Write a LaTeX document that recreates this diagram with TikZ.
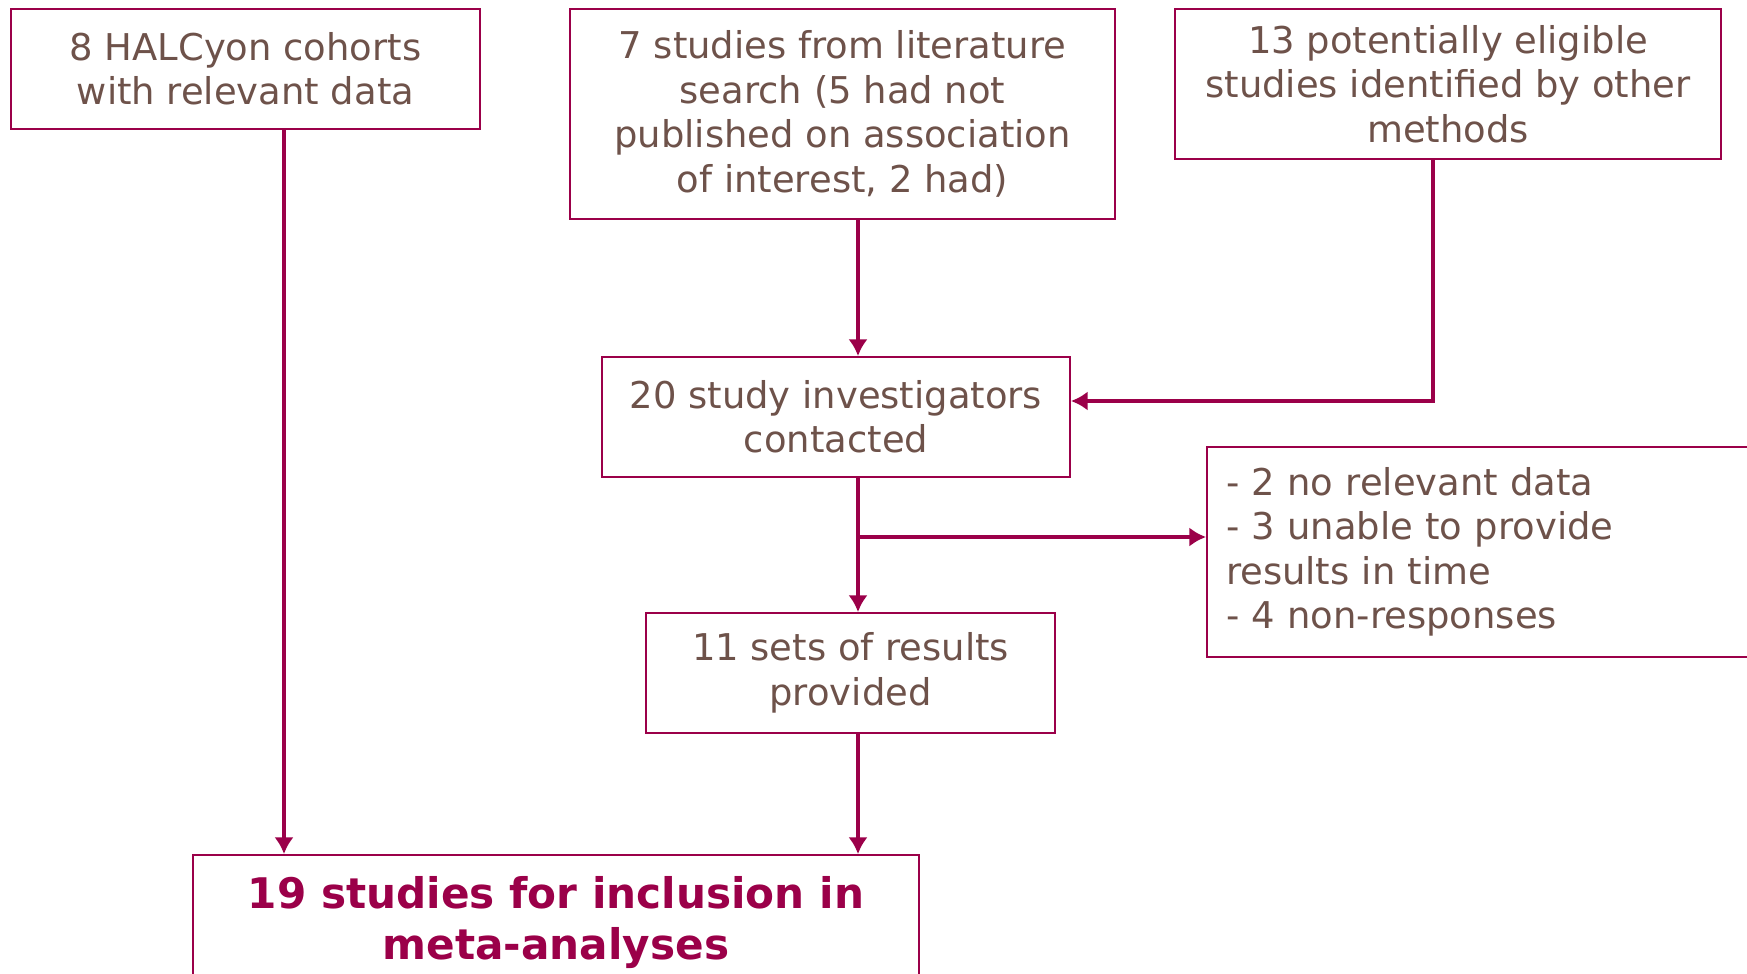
\documentclass[tikz,border=0pt]{standalone}
\usepackage{fontspec}
\setmainfont{DejaVu Sans}
\usetikzlibrary{arrows.meta, positioning, calc}
\definecolor{flowcrimson}{HTML}{9B0049}
\definecolor{flowtext}{HTML}{6E524A}

\begin{document}
\begin{tikzpicture}[
      box/.style={draw=flowcrimson, line width=1.1pt, fill=white,
        text=flowtext, align=center, inner sep=0pt,
        font=\fontsize{21}{25.3}\selectfont},
      flow/.style={->, draw=flowcrimson, line width=2.7pt},
      >={Latex[length=9.5pt, width=11pt]}
    ]
      \useasboundingbox (0,0) rectangle (34.94,-19.46);
      \node[box, minimum width=9.38cm, minimum height=2.4cm]
        at (4.91,-1.38) (cohorts)
        {8 HALCyon cohorts\\with relevant data};
      \node[box, minimum width=10.9cm, minimum height=4.2cm]
        at (16.85,-2.28) (literature)
        {7 studies from literature\\search (5 had not\\published on association\\of interest, 2 had)};
      \node[box, minimum width=10.92cm, minimum height=3.0cm]
        at (28.96,-1.68) (other)
        {13 potentially eligible\\studies identified by other\\methods};
      \node[box, minimum width=9.36cm, minimum height=2.4cm]
        at (16.72,-8.34) (contacted)
        {20 study investigators\\contacted};
      \node[box, minimum width=11.06cm, minimum height=4.2cm,
        text width=10.3cm, inner xsep=0.38cm, align=left]
        at (29.67,-11.04) (excluded)
        {- 2 no relevant data\\- 3 unable to provide\\results in time\\- 4 non-responses};
      \node[box, minimum width=8.18cm, minimum height=2.4cm]
        at (17.01,-13.46) (results)
        {11 sets of results\\provided};
      \node[box, minimum width=14.52cm, minimum height=2.7cm,
        text=flowcrimson, font=\fontsize{24}{29}\selectfont\bfseries]
        at (11.12,-18.45) (included)
        {19 studies for inclusion in\\meta-analyses};
      % connector lines
      \coordinate (spine) at (17.16,0);
      \coordinate (leftline) at (5.68,0);
      \coordinate (turn) at (28.66,-8.02);
      \coordinate (split) at (17.16,-10.74);
      \draw[flow] (cohorts.south -| leftline) -- (included.north -| leftline);
      \draw[flow] (literature.south -| spine) -- (contacted.north -| spine);
      \draw[flow] (other.south -| turn) |- (contacted.east |- turn);
      \draw[flow] (contacted.south -| spine) -- (results.north -| spine);
      \draw[flow] (split) -- (split -| excluded.west);
      \draw[flow] (results.south -| spine) -- (included.north -| spine);
    \end{tikzpicture}
\end{document}
